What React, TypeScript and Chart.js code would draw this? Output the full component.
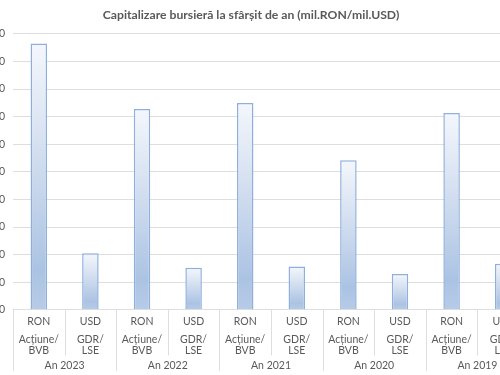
import React, { useEffect, useRef } from "react";
import { Chart, registerables } from "chart.js";

Chart.register(...registerables);

const titleText = "Capitalizare bursieră la sfârșit de an (mil.RON/mil.USD)";
const currencies = ["RON", "USD", "RON", "USD", "RON", "USD", "RON", "USD", "RON", "USD"];
const instruments = [
  ["Acțiune/", "BVB"], ["GDR/", "LSE"],
  ["Acțiune/", "BVB"], ["GDR/", "LSE"],
  ["Acțiune/", "BVB"], ["GDR/", "LSE"],
  ["Acțiune/", "BVB"], ["GDR/", "LSE"],
  ["Acțiune/", "BVB"], ["GDR/", "LSE"],
];
const years = ["An 2023", "An 2022", "An 2021", "An 2020", "An 2019"];
const capitalization = [9650, 2050, 7280, 1520, 7500, 1570, 5420, 1300, 7130, 1670];
const yMin = 0;
const yMax = 10000;
const yStep = 1000;

const FONT = "Lato, 'Liberation Sans', Arial, sans-serif";
const TEXT = "#595959";
const GRID = "#dedede";

const separatorPlugin = {
  id: "categorySeparators",
  afterDraw(chart: any) {
    const { ctx, chartArea, scales } = chart;
    const x = scales.x;
    const x2 = scales.x2;
    const x3 = scales.x3;
    if (!x || !x2 || !x3) return;
    const perGroup = currencies.length / years.length;
    ctx.save();
    ctx.strokeStyle = GRID;
    ctx.lineWidth = 1;
    for (let i = 0; i <= currencies.length; i++) {
      const px = Math.round(x.getPixelForValue(i - 0.5)) + 0.5;
      const isGroupEdge = i % perGroup === 0;
      const yEnd = isGroupEdge ? x3.bottom - 4 : x2.bottom - 1;
      ctx.beginPath();
      ctx.moveTo(px, chartArea.bottom);
      ctx.lineTo(px, yEnd);
      ctx.stroke();
    }
    ctx.restore();
  },
};

export default function App() {
  const ref = useRef<HTMLCanvasElement | null>(null);
  useEffect(() => {
    if (!ref.current) return;
    const chart = new Chart(ref.current, {
      type: "bar",
      plugins: [separatorPlugin],
      data: {
        labels: currencies,
        datasets: [
          {
            data: capitalization,
            xAxisID: "x",
            yAxisID: "y",
            borderColor: "#8fb0dd",
            borderWidth: 1.5,
            barPercentage: 0.32,
            categoryPercentage: 1,
            backgroundColor: (c: any) => {
              const ch = c.chart;
              const { ctx, chartArea, scales } = ch;
              if (!chartArea || c.type !== "data" || !scales.y) return "#c6d5ea";
              const top = scales.y.getPixelForValue(c.raw as number);
              const bottom = scales.y.getPixelForValue(0);
              if (!isFinite(top) || !isFinite(bottom) || bottom - top < 1) return "#c6d5ea";
              const g = ctx.createLinearGradient(0, top, 0, bottom);
              g.addColorStop(0, "#f4f7fc");
              g.addColorStop(0.5, "#cbd9ed");
              g.addColorStop(0.85, "#abc3e3");
              g.addColorStop(1, "#b7cbe7");
              return g;
            },
          },
        ],
      },
      options: {
        animation: false,
        responsive: false,
        maintainAspectRatio: false,
        layout: { padding: { left: 0, right: 2, top: 0, bottom: 0 } },
        plugins: {
          legend: { display: false },
          tooltip: { enabled: false },
          title: {
            display: true,
            text: titleText,
            color: TEXT,
            font: { family: FONT, size: 12.2, weight: "bold", lineHeight: 1.2 },
            padding: { top: 8, bottom: 11.3 },
          },
        },
        scales: {
          x: {
            type: "category",
            position: "bottom",
            weight: 1,
            offset: true,
            grid: { offset: true, drawOnChartArea: false, drawTicks: false, color: GRID },
            border: { display: true, color: GRID },
            ticks: {
              color: TEXT,
              font: { family: FONT, size: 10.5, lineHeight: 1.2 },
              padding: 6,
              maxRotation: 0,
              autoSkip: false,
            },
          },
          x2: {
            type: "category",
            position: "bottom",
            weight: 2,
            labels: instruments as any,
            offset: true,
            grid: { display: false, drawTicks: false, offset: true },
            border: { display: false },
            ticks: {
              color: TEXT,
              font: { family: FONT, size: 10.5, lineHeight: 1.05 },
              padding: 0,
              maxRotation: 0,
              autoSkip: false,
            },
          },
          x3: {
            type: "category",
            position: "bottom",
            weight: 3,
            labels: years,
            offset: true,
            grid: { display: false, drawTicks: false, offset: true },
            border: { display: false },
            ticks: {
              color: TEXT,
              font: { family: FONT, size: 10.5, lineHeight: 1.2 },
              padding: 3,
              maxRotation: 0,
              autoSkip: false,
            },
          },
          y: {
            type: "linear",
            min: yMin,
            max: yMax,
            afterFit: (s: any) => {
              s.width = 40;
            },
            grid: { color: GRID, drawTicks: false },
            border: { display: false },
            ticks: {
              stepSize: yStep,
              color: TEXT,
              font: { family: FONT, size: 10.5 },
              padding: 8,
              callback: (v: any) => String(v),
            },
          },
        },
      },
    });
    return () => chart.destroy();
  }, []);

  return (
    <div
      style={{
        position: "fixed",
        left: 0,
        top: 0,
        width: 500,
        height: 375,
        overflow: "hidden",
        background: "#ffffff",
      }}
    >
      <div style={{ position: "absolute", left: -27, top: 0, width: 558, height: 375 }}>
        <canvas ref={ref} width={558} height={375} style={{ display: "block" }} />
      </div>
    </div>
  );
}
